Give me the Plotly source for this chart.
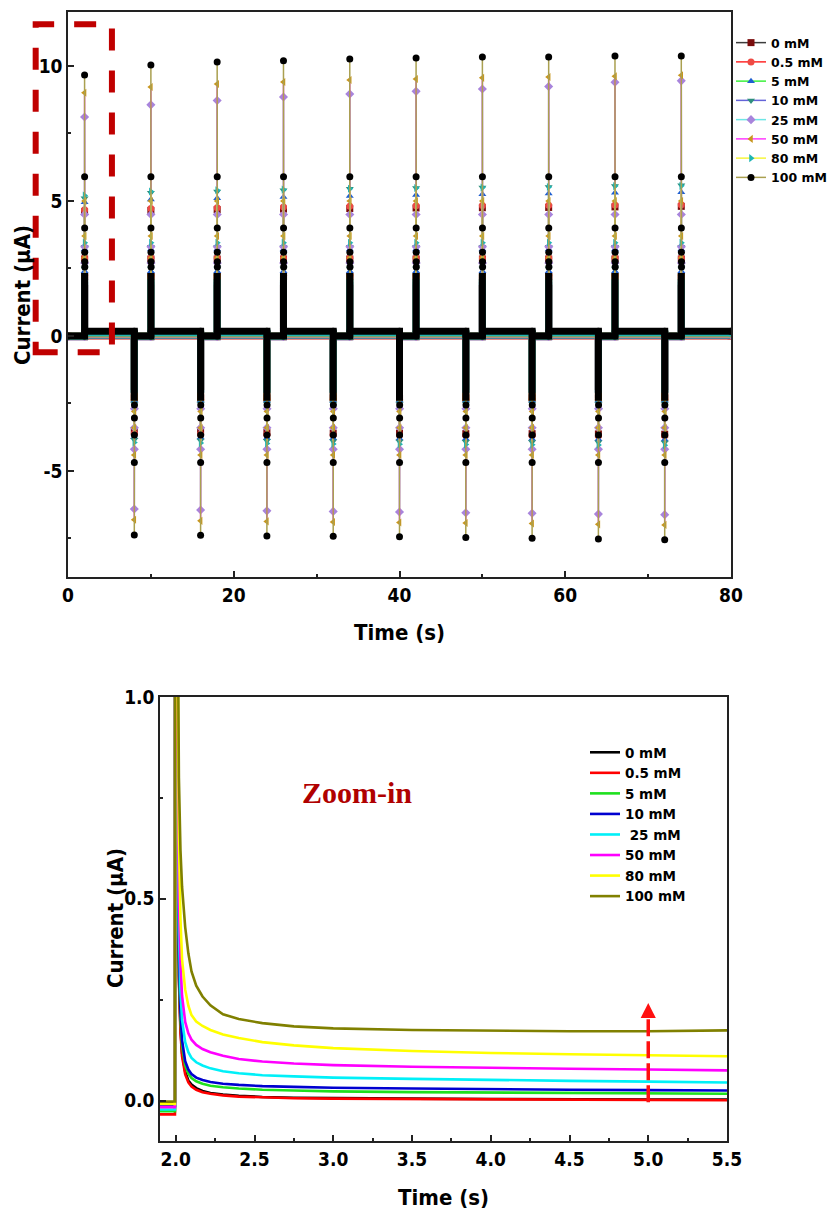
import plotly.graph_objects as go

W, H = 833, 1212

# ---------------- data ----------------
labels = ["0 mM", "0.5 mM", "5 mM", "10 mM", "25 mM", "50 mM", "80 mM", "100 mM"]
zoom_labels = ["0 mM", "0.5 mM", "5 mM", "10 mM", " 25 mM", "50 mM", "80 mM", "100 mM"]

# potential steps (s)
on_times = [2, 10, 18, 26, 34, 42, 50, 58, 66, 74]
off_times = [8, 16, 24, 32, 40, 48, 56, 64, 72]
t_end = 80

# first sample after each positive step (µA)
on_peak = {
    "0 mM":   [4.60, 4.65, 4.68, 4.70, 4.72, 4.74, 4.75, 4.76, 4.78, 4.80],
    "0.5 mM": [4.67, 4.72, 4.75, 4.78, 4.80, 4.82, 4.83, 4.84, 4.85, 4.86],
    "5 mM":   [4.95, 5.05, 5.10, 5.15, 5.18, 5.22, 5.25, 5.28, 5.30, 5.32],
    "10 mM":  [5.10, 5.30, 5.35, 5.40, 5.45, 5.48, 5.50, 5.52, 5.55, 5.58],
    "25 mM":  [8.11, 8.56, 8.72, 8.85, 8.96, 9.06, 9.15, 9.24, 9.40, 9.45],
    "50 mM":  [9.01, 9.22, 9.33, 9.41, 9.48, 9.52, 9.56, 9.59, 9.62, 9.66],
    "80 mM":  [5.20, 5.35, 5.40, 5.42, 5.45, 5.48, 5.50, 5.52, 5.55, 5.56],
    "100 mM": [9.67, 10.04, 10.15, 10.19, 10.26, 10.30, 10.33, 10.33, 10.37, 10.37],
}
# following discrete samples of the anodic transient
on_tail = {
    "0 mM":   [2.85, 2.20],
    "0.5 mM": [2.89, 2.25],
    "5 mM":   [3.20, 2.40],
    "10 mM":  [3.30, 2.50],
    "25 mM":  [4.50, 3.30, 2.70],
    "50 mM":  [5.00, 3.70, 2.90],
    "80 mM":  [3.45, 2.60],
    "100 mM": [5.90, 4.00, 3.10, 2.75, 2.55],
}
# first sample after each negative step (µA)
off_peak = {
    "0 mM":   [-3.55, -3.57, -3.58, -3.60, -3.60, -3.62, -3.62, -3.63, -3.64],
    "0.5 mM": [-3.62, -3.64, -3.65, -3.66, -3.67, -3.68, -3.69, -3.70, -3.70],
    "5 mM":   [-3.75, -3.76, -3.78, -3.79, -3.80, -3.81, -3.82, -3.83, -3.84],
    "10 mM":  [-3.85, -3.87, -3.88, -3.90, -3.91, -3.92, -3.93, -3.94, -3.95],
    "25 mM":  [-6.41, -6.45, -6.48, -6.50, -6.52, -6.55, -6.57, -6.60, -6.62],
    "50 mM":  [-6.81, -6.85, -6.87, -6.89, -6.91, -6.93, -6.95, -6.98, -7.00],
    "80 mM":  [-3.95, -3.97, -3.98, -4.00, -4.01, -4.02, -4.03, -4.04, -4.05],
    "100 mM": [-7.37, -7.38, -7.41, -7.42, -7.44, -7.47, -7.49, -7.52, -7.55],
}
off_tail = {
    "0 mM":   [-2.30],
    "0.5 mM": [-2.35],
    "5 mM":   [-2.40],
    "10 mM":  [-2.50],
    "25 mM":  [-4.20, -3.40, -2.70],
    "50 mM":  [-4.41, -3.40, -2.80],
    "80 mM":  [-2.55],
    "100 mM": [-4.69, -3.67, -3.04, -2.56],
}
# where the densely sampled part of each transient begins
dense_on = [1.9, 1.9, 2.0, 2.1, 2.2, 2.3, 2.1, 2.33]
dense_off = [-2.0, -2.0, -2.1, -2.1, -2.3, -2.4, -2.1, -2.40]

# zoomed transient after the first step (s, µA)
zoom_t = [1.90, 1.995, 2.00, 2.01, 2.02, 2.03, 2.04, 2.06, 2.08, 2.10, 2.13, 2.17,
          2.22, 2.30, 2.40, 2.55, 2.75, 3.00, 3.50, 4.00, 4.50, 5.00, 5.50]
zoom_i = {
    "0 mM":   [-0.004, -0.004, 4.60, 0.78, 0.31, 0.180, 0.118, 0.072, 0.050, 0.040, 0.031, 0.024,
               0.019, 0.015, 0.012, 0.009, 0.007, 0.006, 0.005, 0.004, 0.003, 0.003, 0.003],
    "0.5 mM": [-0.034, -0.034, 4.67, 0.75, 0.30, 0.170, 0.110, 0.065, 0.045, 0.035, 0.027, 0.021,
               0.017, 0.013, 0.010, 0.008, 0.006, 0.005, 0.004, 0.003, 0.002, 0.001, 0.001],
    "5 mM":   [-0.026, -0.026, 4.95, 0.80, 0.33, 0.200, 0.135, 0.087, 0.067, 0.056, 0.048, 0.042,
               0.037, 0.033, 0.030, 0.027, 0.025, 0.023, 0.021, 0.020, 0.019, 0.018, 0.017],
    "10 mM":  [-0.013, -0.013, 5.10, 0.85, 0.36, 0.220, 0.150, 0.098, 0.077, 0.066, 0.057, 0.051,
               0.046, 0.042, 0.039, 0.036, 0.034, 0.032, 0.030, 0.028, 0.027, 0.026, 0.025],
    "25 mM":  [-0.022, -0.022, 8.11, 0.90, 0.42, 0.270, 0.200, 0.145, 0.120, 0.106, 0.095, 0.087,
               0.080, 0.073, 0.068, 0.063, 0.060, 0.057, 0.054, 0.051, 0.049, 0.047, 0.045],
    "50 mM":  [-0.016, -0.016, 9.01, 1.00, 0.50, 0.340, 0.260, 0.195, 0.167, 0.151, 0.138, 0.128,
               0.120, 0.111, 0.103, 0.097, 0.092, 0.088, 0.084, 0.081, 0.079, 0.077, 0.075],
    "80 mM":  [-0.008, -0.008, 5.20, 1.20, 0.65, 0.450, 0.350, 0.275, 0.235, 0.212, 0.196, 0.185,
               0.175, 0.164, 0.155, 0.145, 0.137, 0.130, 0.123, 0.118, 0.115, 0.112, 0.110],
    "100 mM": [-0.002, -0.002, 9.67, 1.40, 0.80, 0.620, 0.530, 0.430, 0.365, 0.320, 0.285, 0.258,
               0.236, 0.214, 0.202, 0.192, 0.184, 0.179, 0.175, 0.173, 0.172, 0.172, 0.174],
}

top_ticks = [-5, 0, 5, 10]
top_ticktext = ["-5", "0", "5", "10"]

# ---------------- styles ----------------
line_colors = ["#3c3c3c", "#ff2a2a", "#3cf03c", "#6464d8", "#6ee6e6", "#ff3cff", "#f5f53c", "#aaa050"]
marker_colors = ["#7a0c0c", "#ee4a44", "#1f5fd0", "#2f8f7c", "#a884dc", "#c8961e", "#1eb4b4", "#000000"]
symbols = ["square", "circle", "triangle-up", "triangle-down", "diamond",
           "triangle-left", "triangle-right", "circle"]
zoom_colors = ["#000000", "#ff0000", "#1ee01e", "#0000d0", "#00f0f8", "#ff00ff", "#ffff00", "#808000"]

NARROW = "DejaVu Sans Condensed, Liberation Sans Narrow, Liberation Sans, Arial, sans-serif"
LEGEND_FONT = "DejaVu Sans, Liberation Sans, Arial, sans-serif"

top_x = [68 / W, 731 / W]
top_y = [1 - 577 / H, 1 - 12 / H]
bot_x = [160 / W, 727 / W]
bot_y = [1 - 1141 / H, 1 - 697 / H]
top_xr = [0, 80]
top_yr = [-8.93, 12]
bot_xr = [1.9, 5.5]
bot_yr = [-0.1, 1.0]

sample_dt = 0.005

fig = go.Figure()

# ---------------- top panel: pulse train ----------------
for i, s in enumerate(labels):
    lo = zoom_i[s][0]
    hi = zoom_i[s][-1]

    # densely sampled baseline / transient foot, drawn as a marker-wide band
    bx, by = [0], [lo]
    # individual samples joined by the trace line
    x, y = [0], [lo]
    for k, ton in enumerate(on_times):
        toff = off_times[k] if k < len(off_times) else t_end
        bx += [ton, ton, ton, toff]
        by += [lo, dense_on[i], hi, hi]
        vals = [on_peak[s][k]] + on_tail[s] + [hi]
        x += [ton] + [ton + j * sample_dt for j in range(len(vals))] + [toff]
        y += [lo] + vals + [hi]
        if k < len(off_times):
            bx += [toff, toff]
            by += [dense_off[i], lo]
            vals = [off_peak[s][k]] + off_tail[s] + [lo]
            x += [toff + j * sample_dt for j in range(len(vals))]
            y += vals

    fig.add_trace(go.Scatter(
        x=x, y=y, mode="lines+markers", name=s, legend="legend",
        line=dict(color=line_colors[i], width=1.5),
        marker=dict(symbol=symbols[i], size=7, color=marker_colors[i], line=dict(width=0)),
        xaxis="x", yaxis="y"))
    fig.add_trace(go.Scatter(
        x=bx, y=by, mode="lines", showlegend=False, hoverinfo="skip",
        line=dict(color=marker_colors[i], width=7),
        xaxis="x", yaxis="y"))

# ---------------- bottom panel: zoom-in ----------------
for i, s in enumerate(labels):
    fig.add_trace(go.Scatter(
        x=zoom_t, y=zoom_i[s], mode="lines", name=zoom_labels[i], legend="legend2",
        line=dict(color=zoom_colors[i], width=2.6),
        xaxis="x2", yaxis="y2"))


def to_paper(v, rng, dom):
    return dom[0] + (v - rng[0]) / (rng[1] - rng[0]) * (dom[1] - dom[0])


# highlighted region of the top panel
box_t = (-3.9, 5.3)
box_i = (-0.6, 11.55)
shapes = [dict(
    type="rect", xref="paper", yref="paper",
    x0=to_paper(box_t[0], top_xr, top_x), x1=to_paper(box_t[1], top_xr, top_x),
    y0=to_paper(box_i[0], top_yr, top_y), y1=to_paper(box_i[1], top_yr, top_y),
    line=dict(color="#c00000", width=6, dash="22px,20px"), fillcolor="rgba(0,0,0,0)")]

# trend arrow in the zoom-in
arrow_t = 5.0
arrow_i = (-0.004, 0.205, 0.242)
head_hw = 0.048
shapes.append(dict(type="line", xref="x2", yref="y2",
                   x0=arrow_t, x1=arrow_t, y0=arrow_i[0], y1=arrow_i[1],
                   line=dict(color="#ff1010", width=3.5, dash="17px,5px")))
shapes.append(dict(type="path", xref="x2", yref="y2",
                   path=f"M {arrow_t - head_hw},{arrow_i[1]} L {arrow_t + head_hw},{arrow_i[1]} "
                        f"L {arrow_t},{arrow_i[2]} Z",
                   fillcolor="#ff1010", line=dict(width=0)))

tick_font = dict(family=NARROW, size=19, color="black", weight="bold")
title_font = dict(family=NARROW, size=22, color="black", weight="bold")

annotations = [
    dict(text="Time (s)", x=(top_x[0] + top_x[1]) / 2, y=1 - 632 / H, xref="paper", yref="paper",
         showarrow=False, font=title_font, xanchor="center", yanchor="middle"),
    dict(text="Current (μA)", x=22 / W, y=1 - 295 / H, xref="paper", yref="paper",
         showarrow=False, font=title_font, textangle=-90, xanchor="center", yanchor="middle"),
    dict(text="Time (s)", x=(bot_x[0] + bot_x[1]) / 2, y=1 - 1197 / H, xref="paper", yref="paper",
         showarrow=False, font=title_font, xanchor="center", yanchor="middle"),
    dict(text="Current (μA)", x=115 / W, y=1 - 918 / H, xref="paper", yref="paper",
         showarrow=False, font=title_font, textangle=-90, xanchor="center", yanchor="middle"),
    dict(text="Zoom-in", x=357 / W, y=1 - 792 / H, xref="paper", yref="paper",
         showarrow=False, xanchor="center", yanchor="middle",
         font=dict(family="Liberation Serif, Times New Roman, serif", size=30,
                   color="#b00000", weight="bold")),
]

axis_common = dict(showline=True, linecolor="#222222", linewidth=1.5, mirror=True,
                   ticks="inside", ticklen=6, tickwidth=1.5, tickcolor="#222222",
                   showgrid=False, zeroline=False, tickfont=tick_font, automargin=False)
minor_common = dict(ticks="inside", ticklen=3.5, tickcolor="#222222", tickwidth=1.5)

fig.update_layout(
    width=W, height=H, margin=dict(l=0, r=0, t=0, b=0, autoexpand=False),
    paper_bgcolor="white", plot_bgcolor="white",
    xaxis=dict(domain=top_x, range=top_xr, dtick=20, tick0=0, anchor="y",
               minor=dict(dtick=10, **minor_common), **axis_common),
    yaxis=dict(domain=top_y, range=top_yr, tickvals=top_ticks, ticktext=top_ticktext, anchor="x",
               minor=dict(dtick=2.5, tick0=0, **minor_common), **axis_common),
    xaxis2=dict(domain=bot_x, range=bot_xr, dtick=0.5, tick0=0, tickformat=".1f", anchor="y2",
                minor=dict(dtick=0.25, **minor_common), **axis_common),
    yaxis2=dict(domain=bot_y, range=bot_yr, dtick=0.5, tick0=0, tickformat=".1f", anchor="x2",
                minor=dict(dtick=0.25, **minor_common), **axis_common),
    legend=dict(x=731 / W, y=1 - 28 / H, xanchor="left", yanchor="top",
                bgcolor="rgba(0,0,0,0)", tracegroupgap=0,
                font=dict(family=LEGEND_FONT, size=12.5, color="black", weight="bold")),
    legend2=dict(x=585 / W, y=1 - 737 / H, xanchor="left", yanchor="top",
                 bgcolor="rgba(0,0,0,0)", tracegroupgap=0,
                 font=dict(family=LEGEND_FONT, size=13.5, color="black", weight="bold")),
    shapes=shapes, annotations=annotations,
    showlegend=True,
)

fig.write_html("out.html")
